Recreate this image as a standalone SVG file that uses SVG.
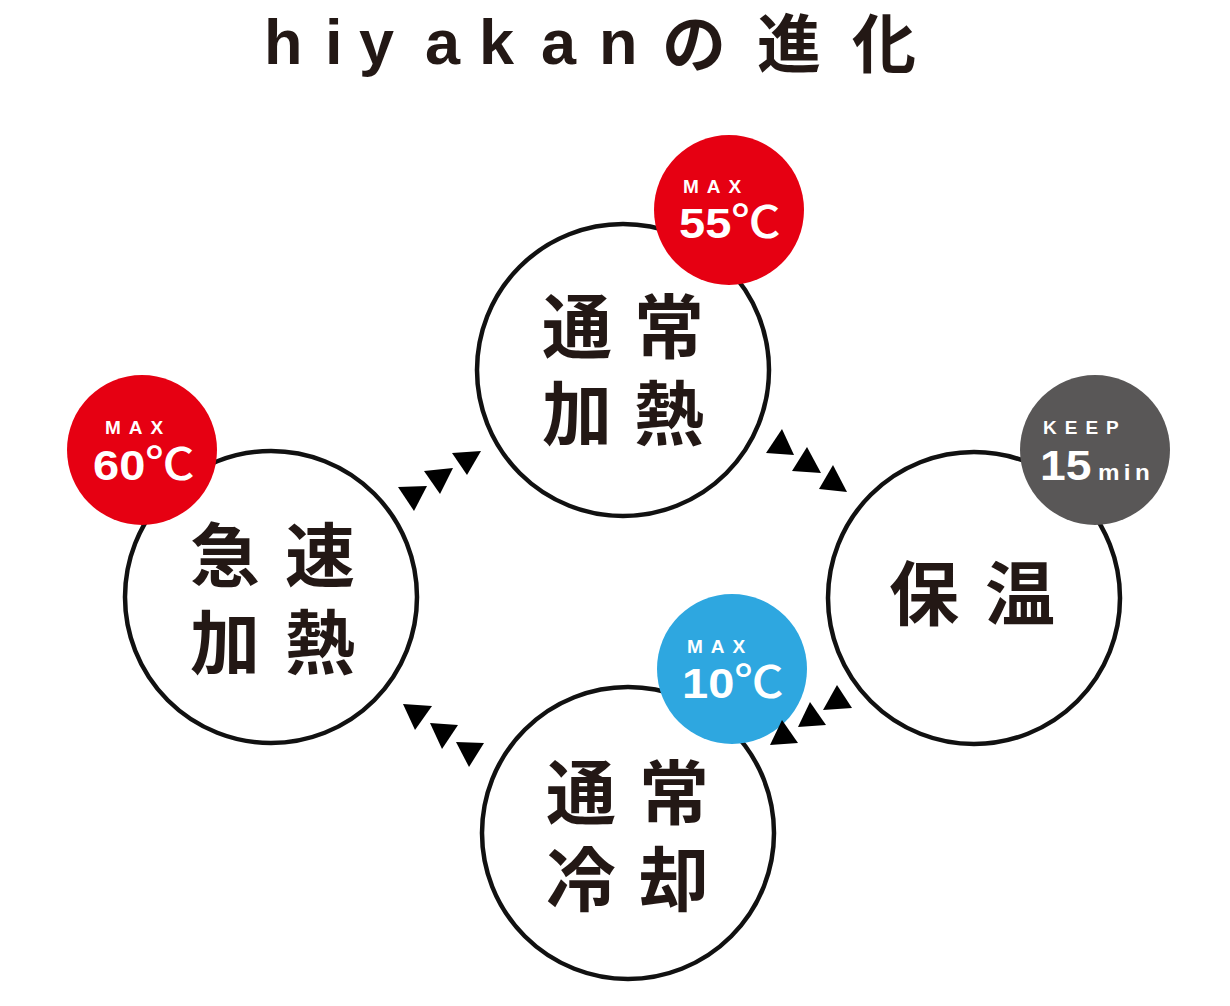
<svg xmlns="http://www.w3.org/2000/svg" width="1230" height="1006" viewBox="0 0 1230 1006">
<style>
.title{font-family:"Liberation Sans","Noto Sans CJK JP",sans-serif;font-weight:bold;font-size:63px;fill:#231815}
.tj{font-family:"Noto Sans CJK JP",sans-serif;font-weight:bold;font-size:64px}
.ring{fill:#fff;stroke:#111;stroke-width:4.5}
.lbl{font-family:"Noto Sans CJK JP",sans-serif;font-weight:bold;font-size:70px;fill:#231815}
.red{fill:#e60012}
.blue{fill:#2ea7e0}
.gray{fill:#595757}
.sm{font-family:"Liberation Sans",sans-serif;font-weight:bold;font-size:19px;fill:#fff;letter-spacing:8px}
.big{font-family:"Liberation Sans",sans-serif;font-weight:bold;font-size:42px;fill:#fff}
.deg{font-family:"Noto Sans CJK JP",sans-serif;font-weight:500;font-size:44px}
.min{font-family:"Liberation Sans",sans-serif;font-weight:bold;font-size:22px;letter-spacing:4px}
.tri{fill:#000}
</style>
<text class="title" y="64"><tspan x="264 325 359 425 479 541 599">hiyakan</tspan><tspan class="tj" x="662 757 852" y="67">の進化</tspan></text>

<g id="node-normal-heat">
<circle class="ring" cx="623" cy="370" r="146"/>
<text class="lbl"><tspan x="542" y="353">通</tspan><tspan x="634" y="353">常</tspan><tspan x="542" y="440">加</tspan><tspan x="634" y="440">熱</tspan></text>
</g>
<g id="node-rapid-heat">
<circle class="ring" cx="271" cy="597" r="146"/>
<text class="lbl"><tspan x="190" y="582">急</tspan><tspan x="285" y="582">速</tspan><tspan x="190" y="669">加</tspan><tspan x="285" y="669">熱</tspan></text>
</g>
<g id="node-keep-warm">
<circle class="ring" cx="974" cy="598" r="146"/>
<text class="lbl"><tspan x="889" y="620">保</tspan><tspan x="985" y="620">温</tspan></text>
</g>
<g id="node-normal-cool">
<circle class="ring" cx="628" cy="833" r="146"/>
<text class="lbl"><tspan x="546" y="819">通</tspan><tspan x="639" y="819">常</tspan><tspan x="546" y="906">冷</tspan><tspan x="639" y="906">却</tspan></text>
</g>

<g id="badge-55">
<circle class="red" cx="729" cy="210" r="75"/>
<text class="sm" x="683" y="193">MAX</text>
<text class="big" transform="translate(679,238) scale(1.12,1)">55<tspan class="deg">℃</tspan></text>
</g>
<g id="badge-60">
<circle class="red" cx="142" cy="450" r="75"/>
<text class="sm" x="105" y="434">MAX</text>
<text class="big" transform="translate(93,480) scale(1.12,1)">60<tspan class="deg">℃</tspan></text>
</g>
<g id="badge-keep">
<circle class="gray" cx="1095" cy="450" r="75"/>
<text class="sm" x="1043" y="434">KEEP</text>
<text class="big" transform="translate(1040,480) scale(1.1,1)">15<tspan class="min" dx="6">min</tspan></text>
</g>
<g id="badge-10">
<circle class="blue" cx="732" cy="669" r="75"/>
<text class="sm" x="687" y="653">MAX</text>
<text class="big" transform="translate(682,698) scale(1.12,1)">10<tspan class="deg">℃</tspan></text>
</g>

<g id="connectors">
<polygon class="tri" points="398,487 427,486 414,511"/>
<polygon class="tri" points="424,471 453,468 440,494"/>
<polygon class="tri" points="452,453 481,451 467,475"/>
<polygon class="tri" points="782,429 766,453 794,455"/>
<polygon class="tri" points="807,447 792,471 821,473"/>
<polygon class="tri" points="833,465 819,489 847,492"/>
<polygon class="tri" points="782,720 770,745 798,743"/>
<polygon class="tri" points="810,702 798,727 826,725"/>
<polygon class="tri" points="837,685 823,710 852,708"/>
<polygon class="tri" points="403,704 432,706 415,730"/>
<polygon class="tri" points="430,723 458,725 442,749"/>
<polygon class="tri" points="456,742 484,743 469,767"/>
</g>
</svg>
